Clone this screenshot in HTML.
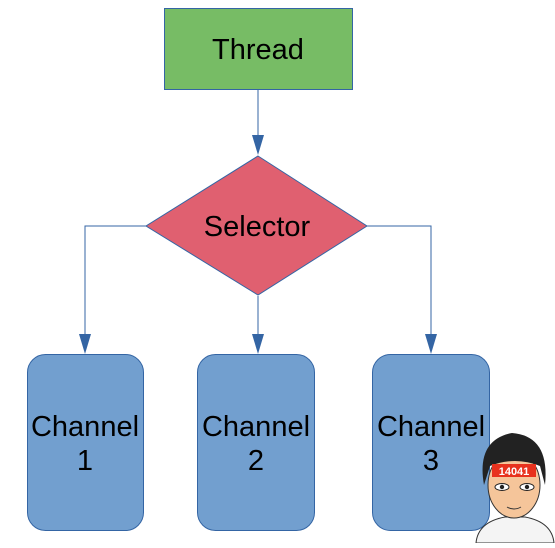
<!DOCTYPE html>
<html><head><style>body{margin:0;background:#fff}</style></head><body>
<svg width="555" height="543" viewBox="0 0 555 543" xmlns="http://www.w3.org/2000/svg" font-family="Liberation Sans, sans-serif">
<rect x="164.5" y="8.5" width="188" height="81" fill="#77bc65" stroke="#3465a4"/>
<text x="258" y="59" font-size="29" text-anchor="middle">Thread</text>
<g stroke="#3465a4" stroke-width="1" fill="none">
<line x1="258" y1="90" x2="258" y2="140"/>
<polyline points="146,226 85,226 85,338"/>
<line x1="258" y1="296" x2="258" y2="338"/>
<polyline points="367,226 431,226 431,338"/>
</g>
<g fill="#3465a4">
<path d="M252,135 L264,135 L258,155 Z"/>
<path d="M79,334 L91,334 L85,354 Z"/>
<path d="M252,334 L264,334 L258,354 Z"/>
<path d="M425,334 L437,334 L431,354 Z"/>
</g>
<path d="M258,156 L367,226 L258,295 L146,226 Z" fill="#e06070" stroke="#3465a4"/>
<text x="257" y="236" font-size="29" text-anchor="middle">Selector</text>
<g fill="#729fcf" stroke="#3465a4">
<rect x="27.5" y="354.5" width="116" height="176" rx="18"/>
<rect x="197.5" y="354.5" width="117" height="176" rx="18"/>
<rect x="372.5" y="354.5" width="117" height="176" rx="18"/>
</g>
<g font-size="29" text-anchor="middle">
<text x="85" y="436">Channel</text><text x="85" y="470">1</text>
<text x="256" y="436">Channel</text><text x="256" y="470">2</text>
<text x="431" y="436">Channel</text><text x="431" y="470">3</text>
</g>
<g>
<path d="M476,543 Q478,522 505,517 L525,517 Q552,522 554,543 Z" fill="#f4f4f4" stroke="#333"/>
<ellipse cx="514" cy="485" rx="26" ry="33" fill="#f5c59a" stroke="#333"/>
<path d="M484,485 Q476,440 512,433 Q550,436 545,485 L540,466 Q515,456 490,466 Z" fill="#222"/>
<rect x="492" y="464" width="44" height="13" fill="#e8321e"/>
<text x="514" y="475" font-size="11" font-weight="bold" fill="#fff" text-anchor="middle">14041</text>
<ellipse cx="502" cy="487" rx="7" ry="3.5" fill="#fff" stroke="#222"/>
<ellipse cx="527" cy="487" rx="7" ry="3.5" fill="#fff" stroke="#222"/>
<circle cx="502" cy="487" r="2.2" fill="#222"/><circle cx="527" cy="487" r="2.2" fill="#222"/>
<path d="M507,507 Q514,511 521,507" stroke="#333" fill="none"/>
</g>
</svg>
</body></html>
